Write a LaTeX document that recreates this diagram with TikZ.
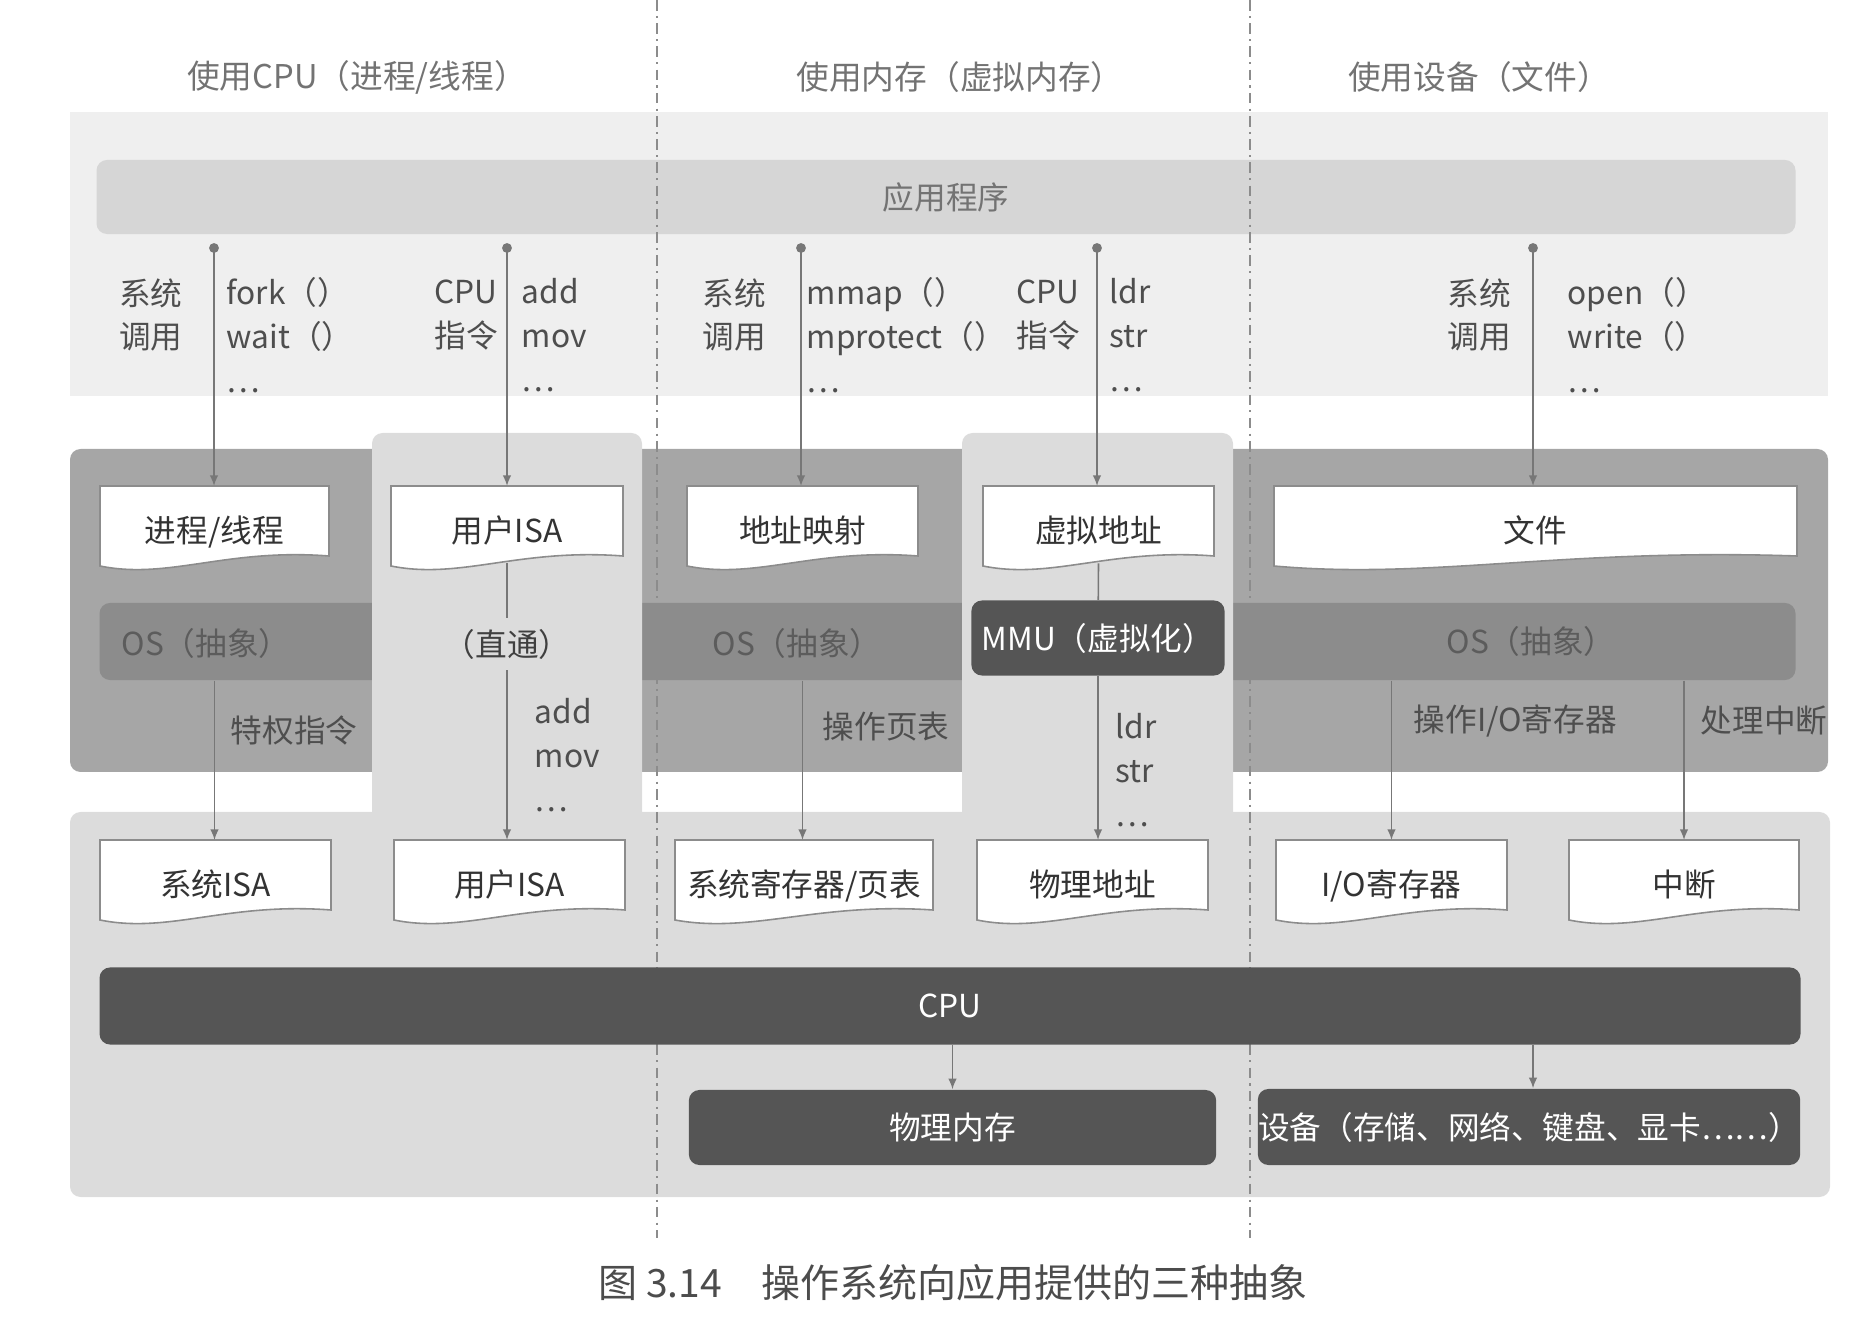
\documentclass[tikz,border=0pt]{standalone}
\usepackage{fontspec}
\setmainfont{Noto Sans CJK SC}
\usetikzlibrary{arrows.meta, positioning, calc}

\definecolor{bandtop}{HTML}{EFEFEF}
\definecolor{appbar}{HTML}{D6D6D6}
\definecolor{osband}{HTML}{A6A6A6}
\definecolor{osfill}{HTML}{8C8C8C}
\definecolor{ostext}{HTML}{5C5C5C}
\definecolor{hwband}{HTML}{DCDCDC}
\definecolor{hwdark}{HTML}{555555}
\definecolor{linegray}{HTML}{777777}
\definecolor{textgray}{HTML}{4E4E4E}

% document-shaped box: name, left x, top y, width, text
\newcommand{\docbox}[5]{%
  \filldraw[docline] (#2,#3) -- ++(#4,0) -- ++(0,70)
    .. controls +(-0.45*#4,-8) and +(0.3*#4,14) .. ++(-#4,10) -- cycle;
  \node[doctext, minimum width=#4*0.1mm] (#1) at (#2+#4/2,#3) {#5};
}

\begin{document}
\begin{tikzpicture}[
      x=0.01cm, y=-0.01cm,
      font=\fontsize{9}{12.5}\selectfont,
      >=Latex,
      bar/.style={
        rounded corners=3pt,
        inner sep=0pt,
        align=center
      },
      darkbar/.style={
        bar,
        fill=hwdark,
        text=white
      },
      docline/.style={
        fill=white,
        draw=black!45,
        line width=0.45pt
      },
      doctext/.style={
        anchor=north,
        inner sep=0pt,
        minimum height=7.6mm,
        text height=11pt,
        text depth=1pt,
        text=black!80
      },
      lbl/.style={
        inner sep=0pt,
        text=textgray,
        align=center
      },
      lbll/.style={
        lbl,
        anchor=west,
        align=left
      },
      oslbl/.style={inner sep=0pt, text=ostext},
      title/.style={text=black!55, font=\fontsize{9.3}{11}\selectfont},
      divider/.style={draw=black!45, line width=0.4pt,
        dash pattern=on 3pt off 1.5pt on 0.6pt off 1.5pt},
      arr/.style={-{Latex[length=3pt,width=2.4pt]}, draw=linegray, line width=0.45pt},
      link/.style={draw=linegray, line width=0.45pt}
    ]
    \useasboundingbox (0,0) rectangle (1854,1322);

    % Background layers
    \fill[bandtop] (70,112) rectangle (1828,396);
    \fill[osband, rounded corners=3pt] (70,449) rectangle (1828,772);
    \fill[hwband, rounded corners=3pt] (70,812) rectangle (1830,1197);
    \node[bar, fill=appbar, text=black!55, minimum width=16.98cm, minimum height=7.4mm] (app) at (946,197) {应用程序};
    \node[bar, fill=osfill, minimum width=16.95cm, minimum height=7.7mm] (osbar) at (947.5,641.5) {};
    \fill[hwband, rounded corners=3pt] (372,433) rectangle (642,830);
    \fill[hwband, rounded corners=3pt] (962,433) rectangle (1233,830);

    % Column dividers
    \draw[divider] (657,0) -- (657,1238);
    \draw[divider] (1250,0) -- (1250,1238);

    % Column titles
    \node[title] (tcpu) at (357,77) {使用CPU（进程/线程）};
    \node[title] (tmem) at (960,77) {使用内存（虚拟内存）};
    \node[title] (tdev) at (1479,77) {使用设备（文件）};

    % OS and MMU
    \node[oslbl] (osA) at (206,643) {OS（抽象）};
    \node[oslbl] (osB) at (797,643) {OS（抽象）};
    \node[oslbl] (osC) at (1531,641) {OS（抽象）};
    \node[darkbar, minimum width=2.53cm, minimum height=7.5mm] (mmu) at (1098,638) {MMU（虚拟化）};

    % Abstractions
    \docbox{proc}{100}{486}{229}{进程/线程}
    \docbox{uisaA}{391}{486}{232}{用户ISA}
    \docbox{amap}{687}{486}{231}{地址映射}
    \docbox{vaddr}{983}{486}{231}{虚拟地址}
    \docbox{file}{1274}{486}{523}{文件}

    % Hardware interface
    \docbox{sisa}{100}{840}{231}{系统ISA}
    \docbox{uisaB}{394}{840}{231}{用户ISA}
    \docbox{sreg}{675}{840}{258}{系统寄存器/页表}
    \docbox{paddr}{977}{840}{231}{物理地址}
    \docbox{ioreg}{1276}{840}{231}{I/O寄存器}
    \docbox{irq}{1569}{840}{230}{中断}

    % Hardware
    \node[darkbar, minimum width=17cm, minimum height=7.7mm] (cpu) at (950,1006) {CPU};
    \node[darkbar, minimum width=5.27cm, minimum height=7.5mm] (pmem) at (952.5,1127.5) {物理内存};
    \node[darkbar, minimum width=5.42cm, minimum height=7.6mm] (dev) at (1529,1127) {设备（存储、网络、键盘、显卡……）};

    % Calls from the application
    \coordinate (eA) at (214,248);
    \coordinate (eB) at (507,248);
    \coordinate (eC) at (801,248);
    \coordinate (eD) at (1097,248);
    \coordinate (eE) at (1533,248);
    \foreach \e in {eA,eB,eC,eD,eE}
      \fill[linegray] (\e) circle (1.4pt);
    \draw[arr] (eA) -- (eA |- proc.north);
    \draw[arr] (eB) -- (eB |- uisaA.north);
    \draw[arr] (eC) -- (eC |- amap.north);
    \draw[arr] (eD) -- (eD |- vaddr.north);
    \draw[arr] (eE) -- (eE |- file.north);

    \node[lbl] (scA) at (151,315) {系统\\调用};
    \node[lbll] (fnA) at (226,335) {fork（）\\wait（）\\…};
    \node[lbl] (ciB) at (466,315) {CPU\\指令};
    \node[lbll] (insB) at (521,335) {add\\mov\\…};
    \node[lbl] (scC) at (734,315) {系统\\调用};
    \node[lbll] (fnC) at (806,335) {mmap（）\\mprotect（）\\…};
    \node[lbl] (ciD) at (1048,315) {CPU\\指令};
    \node[lbll] (insD) at (1109,335) {ldr\\str\\…};
    \node[lbl] (scE) at (1479,315) {系统\\调用};
    \node[lbll] (fnE) at (1567,335) {open（）\\write（）\\…};

    % Paths down to the hardware
    \node[lbl, text=black!75, inner ysep=3pt] (pass) at (507,644) {（直通）};
    \draw[arr] (proc.south |- osbar.south) -- (proc.south |- sisa.north);
    \draw[link] (uisaA.south) -- (pass);
    \draw[arr] (pass) -- (pass |- uisaB.north);
    \draw[arr] (amap.south |- osbar.south) -- (amap.south |- sreg.north);
    \draw[link] (vaddr.south) -- (mmu);
    \draw[arr] (mmu.south) -- (mmu.south |- paddr.north);
    \draw[arr] (ioreg.north |- osbar.south) -- (ioreg.north);
    \draw[arr] (irq.north |- osbar.south) -- (irq.north);

    \node[lbll] (priv) at (230,730) {特权指令};
    \node[lbll] (insB2) at (534,755) {add\\mov\\…};
    \node[lbll] (ptab) at (822,727) {操作页表};
    \node[lbll] (insD2) at (1115,770) {ldr\\str\\…};
    \node[lbll] (iolbl) at (1413,721) {操作I/O寄存器};
    \node[lbll] (irqlbl) at (1700,721) {处理中断};

    % CPU to memory and devices
    \draw[arr] (pmem.north |- cpu.south) -- (pmem.north);
    \draw[arr] (eE |- cpu.south) -- (eE |- dev.north);

    % Caption
    \node[text=black!70, font=\fontsize{11.1}{13}\selectfont] (caption) at (953,1283) {图 3.14\quad 操作系统向应用提供的三种抽象};

  \end{tikzpicture}
\end{document}
